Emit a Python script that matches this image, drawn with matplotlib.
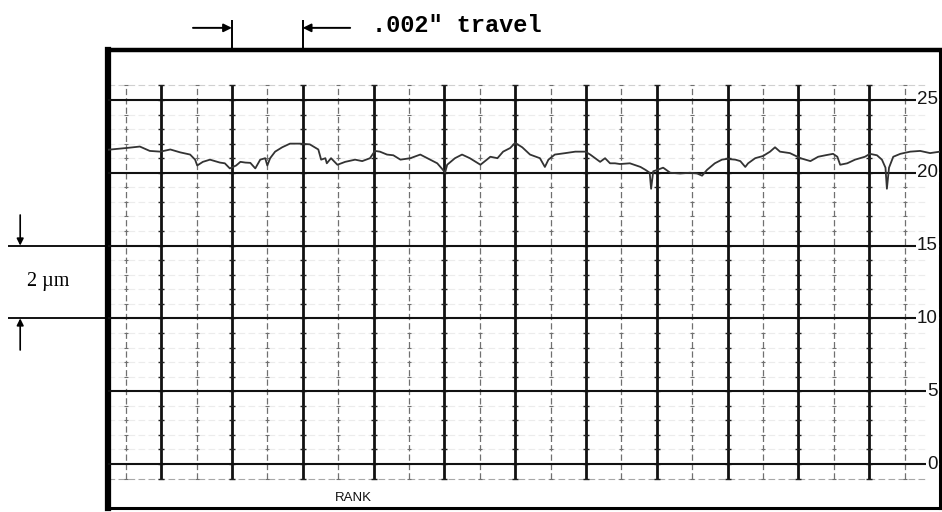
import matplotlib
matplotlib.use("Agg")
import matplotlib.pyplot as plt
import numpy as np

# ---------------- data ----------------
# trace position in chart divisions (1 major division = .002" travel)
trace_x = [-0.75, -0.49, -0.30, -0.16, -0.01, 0.13, 0.27, 0.41, 0.48, 0.51, 0.59, 0.69,
           0.83, 0.90, 0.97, 1.06, 1.12, 1.19, 1.26, 1.33, 1.40, 1.47, 1.50, 1.54, 1.61,
           1.71, 1.82, 1.96, 2.10, 2.22, 2.26, 2.32, 2.34, 2.40, 2.49, 2.60, 2.74, 2.84,
           2.95, 3.02, 3.09, 3.19, 3.28, 3.38, 3.52, 3.66, 3.80, 3.90, 3.98, 4.01, 4.04,
           4.15, 4.25, 4.36, 4.51, 4.60, 4.65, 4.75, 4.83, 4.93, 5.00, 5.10, 5.21, 5.35,
           5.42, 5.47, 5.56, 5.71, 5.85, 5.99, 6.06, 6.13, 6.20, 6.27, 6.34, 6.41, 6.48,
           6.62, 6.77, 6.84, 6.90, 6.92, 6.95, 7.01, 7.09, 7.19, 7.33, 7.47, 7.57, 7.64,
           7.71, 7.82, 7.92, 7.99, 8.11, 8.18, 8.25, 8.29, 8.39, 8.50, 8.60, 8.67, 8.74,
           8.88, 9.03, 9.17, 9.28, 9.38, 9.49, 9.55, 9.59, 9.69, 9.80, 9.94, 10.01, 10.11,
           10.18, 10.23, 10.25, 10.28, 10.34, 10.44, 10.58, 10.72, 10.86, 11.00]
trace_y = [21.58, 21.70, 21.80, 21.50, 21.45, 21.60, 21.40, 21.25, 20.90, 20.50, 20.75, 20.90,
           20.70, 20.65, 20.30, 20.50, 20.75, 20.70, 20.68, 20.30, 20.90, 21.00, 20.50, 21.00, 21.45,
           21.75, 22.00, 22.00, 21.95, 21.60, 20.90, 21.00, 20.65, 21.00, 20.55, 20.75, 20.90, 20.80,
           21.00, 21.50, 21.45, 21.25, 21.20, 20.90, 21.00, 21.25, 20.90, 20.65, 20.20, 20.00, 20.55,
           21.00, 21.25, 21.00, 20.55, 20.90, 21.10, 21.00, 21.45, 21.70, 22.05, 21.75, 21.25, 21.00,
           20.40, 20.90, 21.25, 21.35, 21.45, 21.45, 21.25, 21.00, 20.75, 21.00, 20.65, 20.65, 20.60,
           20.65, 20.40, 20.20, 20.00, 18.90, 20.10, 20.20, 20.35, 20.00, 19.95, 20.00, 19.95, 19.80,
           20.20, 20.65, 20.90, 20.95, 20.90, 20.80, 20.40, 20.65, 21.00, 21.15, 21.45, 21.75, 21.45,
           21.35, 21.00, 20.80, 21.10, 21.20, 21.30, 21.10, 20.55, 20.65, 20.90, 21.10, 21.30, 21.20,
           20.90, 20.35, 18.90, 20.35, 21.10, 21.30, 21.45, 21.50, 21.35, 21.45]

y_major = [0, 5, 10, 15, 20, 25]
y_labels = ["0", "5", "10", "15", "20", "25"]
x_major = list(range(0, 11))
x_minor = [-0.5 + i for i in range(12)]

travel_text = '.002" travel'
scale_text = "2 \u00b5m"
bottom_text = "RANK"

# ---------------- figure ----------------
W, H = 942, 512
fig = plt.figure(figsize=(W / 100, H / 100), dpi=100)
ax = fig.add_axes([108 / W, 1 - 508 / H, (940 - 108) / W, (508 - 50) / H])
ax.set_xlim(-0.75, 11.0)
ax.set_ylim(-3.02, 28.43)
ax.set_xticks([])
ax.set_yticks([])
for side, lw in [("top", 3.2), ("left", 4.5), ("bottom", 2.2), ("right", 2.2)]:
    ax.spines[side].set_linewidth(lw)
    ax.spines[side].set_color("black")

ylo, yhi = -1, 26
# faint minor horizontal lines
for yv in range(ylo, yhi + 1):
    if yv in y_major:
        continue
    c = "#a8a8a8" if yv == ylo else ("#d0d0d0" if yv == yhi else "#ececec")
    ax.hlines(yv, -0.75, 10.8, color=c, lw=0.8, linestyles=(0, (6, 3)), zorder=1)

# vertical grid lines
ax.vlines(x_minor, ylo, yhi, color="#707070", lw=0.9, linestyles=(0, (5, 2.5)), zorder=2)
ax.vlines(x_major, ylo, yhi, color="#111111", lw=2.0, zorder=3)

# small cross ticks at each unit on vertical lines
yy = np.arange(ylo, yhi + 1)
for xv in x_minor:
    ax.plot(np.full(len(yy), xv), yy, ls="none", marker="_", ms=3.5, mew=0.8,
            color="#707070", zorder=3)
for xv in x_major:
    ax.plot(np.full(len(yy), xv), yy, ls="none", marker="_", ms=4.5, mew=1.0,
            color="#222222", zorder=3)

# major horizontal lines
ax.hlines(y_major, -0.75, 11.0, color="#111111", lw=1.5, zorder=3)

# right-side labels
for yv, lab in zip(y_major, y_labels):
    ax.text(10.97, yv, lab, ha="right", va="center", fontsize=13.5,
            family="Liberation Sans", color="#161616", zorder=5,
            bbox=dict(boxstyle="square,pad=0.05", fc="white", ec="none"))

# profile trace
ax.plot(trace_x, trace_y, color="#333333", lw=1.3, zorder=4, solid_joinstyle="round")

# bottom "RANK"
ax.text(2.71, -2.3, bottom_text, ha="center", va="center", fontsize=9.5,
        family="Liberation Sans", color="#111111")

# ---- top travel annotation ----
y_arrow = 29.95
ax.vlines([1.0, 2.0], 28.43, 30.5, color="black", lw=1.4, clip_on=False)
ax.annotate("", xy=(1.0, y_arrow), xytext=(0.45, y_arrow), annotation_clip=False,
            arrowprops=dict(arrowstyle="-|>", color="black", lw=1.4,
                            mutation_scale=12, shrinkA=0, shrinkB=0))
ax.annotate("", xy=(2.0, y_arrow), xytext=(2.67, y_arrow), annotation_clip=False,
            arrowprops=dict(arrowstyle="-|>", color="black", lw=1.4,
                            mutation_scale=12, shrinkA=0, shrinkB=0))
ax.text(2.98, y_arrow + 0.15, travel_text, ha="left", va="center", fontsize=17,
        family="Liberation Mono", fontweight="bold", color="black", clip_on=False)

# ---- left 2 um annotation ----
ax.hlines([15, 10], -2.16, -0.75, color="black", lw=1.3, clip_on=False)
ax.annotate("", xy=(-1.99, 15), xytext=(-1.99, 17.1), annotation_clip=False,
            arrowprops=dict(arrowstyle="-|>", color="black", lw=1.2,
                            mutation_scale=10, shrinkA=0, shrinkB=0))
ax.annotate("", xy=(-1.99, 10), xytext=(-1.99, 7.83), annotation_clip=False,
            arrowprops=dict(arrowstyle="-|>", color="black", lw=1.2,
                            mutation_scale=10, shrinkA=0, shrinkB=0))
ax.text(-1.6, 12.5, scale_text, ha="center", va="center", fontsize=14.5,
        family="Liberation Serif", color="black", clip_on=False)

fig.savefig("out.png", dpi=100)
